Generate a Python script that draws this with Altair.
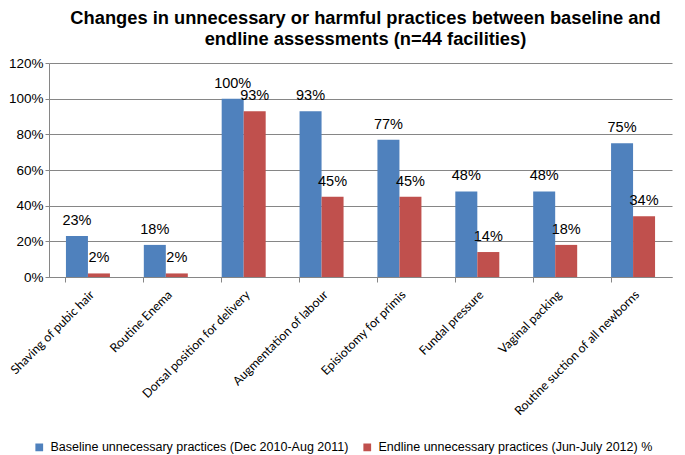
import altair as alt
import pandas as pd

categories = [
    "Shaving of pubic hair",
    "Routine Enema",
    "Dorsal position for delivery",
    "Augmentation of labour",
    "Episiotomy for primis",
    "Fundal pressure",
    "Vaginal packing",
    "Routine suction of all newborns",
]
series_names = [
    "Baseline unnecessary practices (Dec 2010-Aug 2011)",
    "Endline unnecessary practices (Jun-July 2012) %",
]
baseline = [23, 18, 100, 93, 77, 48, 48, 75]
endline = [2, 2, 93, 45, 45, 14, 18, 34]
colors = ["#4F81BD", "#C0504D"]

rows = []
for i, c in enumerate(categories):
    rows.append({"cat": c, "series": series_names[0], "value": baseline[i], "label": f"{baseline[i]}%"})
    rows.append({"cat": c, "series": series_names[1], "value": endline[i], "label": f"{endline[i]}%"})
df = pd.DataFrame(rows)

x = alt.X("cat:N", sort=categories, title=None,
          scale=alt.Scale(paddingInner=0.435, paddingOuter=0.2175),
          axis=alt.Axis(labelAngle=-45, labelFont="Lato", labelFontSize=12.3,
                        labelColor="#000000", domainColor="#868686", tickColor="#868686",
                        tickSize=5, bandPosition=0, labelPadding=6, labelLimit=300))
xo = alt.XOffset("series:N", sort=series_names, scale=alt.Scale(paddingInner=0, paddingOuter=0))
y = alt.Y("value:Q", title=None,
          scale=alt.Scale(domain=[0, 120], nice=False),
          axis=alt.Axis(values=[0, 20, 40, 60, 80, 100, 120], labelExpr="datum.value + '%'",
                        labelFont="Liberation Sans", labelFontSize=13.5, labelColor="#000000",
                        gridColor="#868686", domainColor="#868686", tickColor="#868686",
                        tickSize=4, labelPadding=2))
color = alt.Color("series:N", sort=series_names,
                  scale=alt.Scale(domain=series_names, range=colors),
                  legend=alt.Legend(title=None, orient="none", direction="horizontal",
                                    legendX=-16, legendY=378, symbolType="square",
                                    symbolSize=60, symbolStrokeWidth=0, labelOffset=5,
                                    labelFont="Liberation Sans", labelFontSize=12.5,
                                    labelColor="#000000", columnPadding=12, labelLimit=400))

bars = alt.Chart(df).mark_bar().encode(x=x, xOffset=xo, y=y, color=color)
texts = alt.Chart(df).mark_text(baseline="bottom", dy=-8, font="Liberation Sans",
                                fontSize=14.5, color="#000000").encode(
    x=x, xOffset=xo, y=y, text="label:N")

chart = alt.layer(bars, texts).properties(
    width=623, height=214,
    autosize=alt.AutoSizeParams(type="none"),
    padding={"left": 41, "top": 55, "right": 5, "bottom": 182},
    title=alt.Title(["Changes in unnecessary or harmful practices between baseline and",
                     "endline assessments (n=44 facilities)"],
                    font="Liberation Sans", fontSize=18.3, fontWeight="bold",
                    color="#000000", anchor="middle", dx=5, offset=7, lineHeight=21),
).configure_view(stroke=None).configure_axis(grid=True).configure_axisX(grid=False)

chart.save("out.html", embed_options={"renderer": "svg", "actions": False})
